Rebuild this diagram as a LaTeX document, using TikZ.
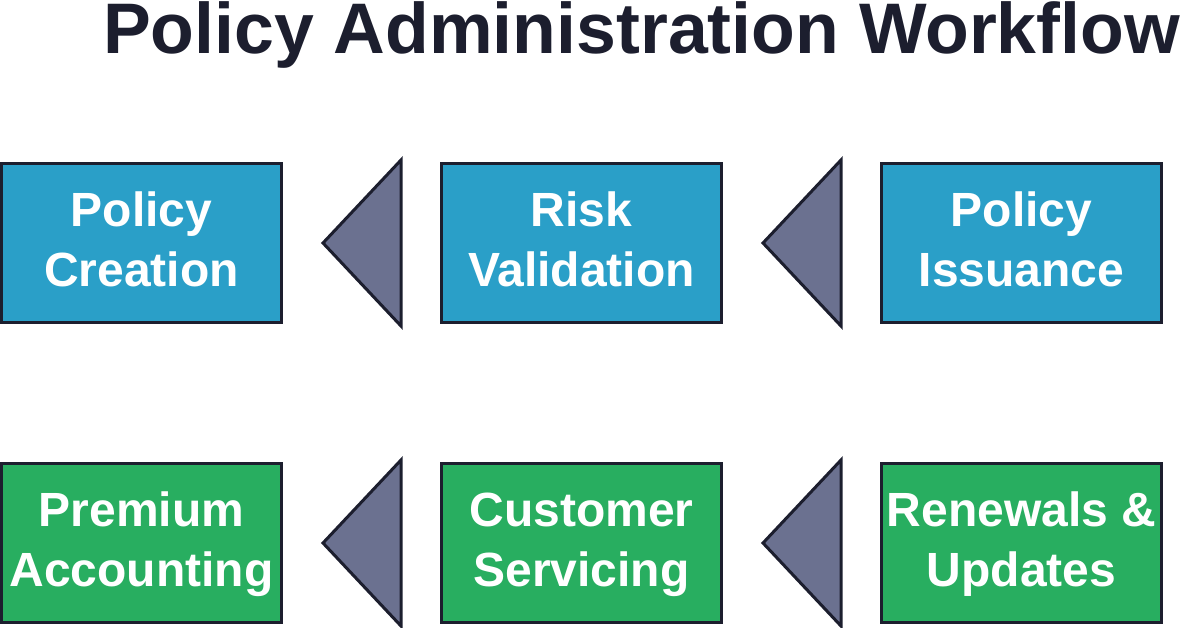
\documentclass[tikz,border=0pt]{standalone}
\usepackage{fontspec}
\setmainfont{Liberation Sans}
\definecolor{ink}{HTML}{1C1E2E}
\definecolor{bluebox}{HTML}{2A9FC8}
\definecolor{greenbox}{HTML}{28AE60}
\definecolor{trifill}{HTML}{6B7190}
\newcommand\boxstrut{\rule[-17pt]{0pt}{60pt}}
\tikzset{
  stepbox/.style={draw=ink, line width=3pt, minimum width=280pt, minimum height=159pt,
    inner sep=0pt, align=center, text=white,
    font=\fontsize{48}{60}\selectfont\bfseries},
  bluestep/.style={stepbox, fill=bluebox},
  greenstep/.style={stepbox, fill=greenbox},
  tri/.style={draw=ink, fill=trifill, line width=3pt, line join=miter},
}
\begin{document}
\begin{tikzpicture}[x=1pt,y=-1pt]
\useasboundingbox (0,0) rectangle (1182,627);
\node[anchor=base, inner sep=0pt, text=ink, font=\fontsize{71.6}{80}\selectfont\bfseries] (title) at (641.5,53) {Policy Administration Workflow};
\node[bluestep] (b1) at (141.5,243) {\boxstrut Policy\\\boxstrut Creation};
\node[bluestep] (b2) at (581.5,243) {\boxstrut Risk\\\boxstrut Validation};
\node[bluestep] (b3) at (1021.5,243) {\boxstrut Policy\\\boxstrut Issuance};
\node[greenstep] (g1) at (141.5,543) {\boxstrut Premium\\\boxstrut Accounting};
\node[greenstep] (g2) at (581.5,543) {\boxstrut Customer\\\boxstrut Servicing};
\node[greenstep] (g3) at (1021.5,543) {\boxstrut Renewals \&\\\boxstrut Updates};
\draw[tri] (323,243) -- (401,160) -- (401,326) -- cycle;
\draw[tri] (763,243) -- (841,160) -- (841,326) -- cycle;
\draw[tri] (323,543) -- (401,460) -- (401,626) -- cycle;
\draw[tri] (763,543) -- (841,460) -- (841,626) -- cycle;
\end{tikzpicture}
\end{document}
